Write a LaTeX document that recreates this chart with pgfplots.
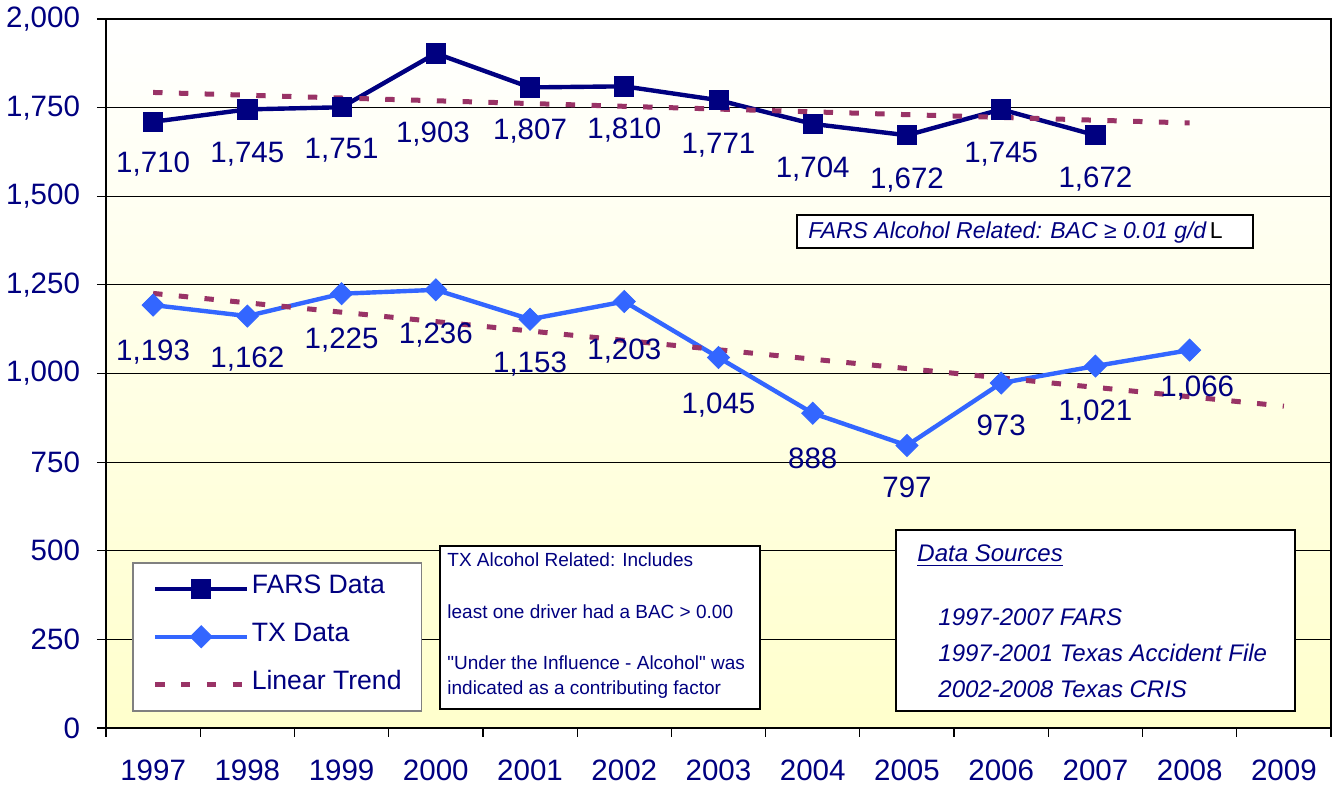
\documentclass[border=0pt]{standalone}
\usepackage{fontspec}
\setmainfont{Liberation Sans}
\newfontfamily\plainfont{Liberation Sans}
\usepackage{pgfplots}
\pgfplotsset{compat=1.18}
\definecolor{navy}{RGB}{0,0,128}
\definecolor{txblue}{RGB}{51,102,255}
\definecolor{trendc}{RGB}{153,51,102}
\definecolor{bgyellow}{RGB}{255,255,204}
\definecolor{legendgray}{RGB}{128,128,128}

\pgfplotstableread{
x y
0 1710
1 1745
2 1751
3 1903
4 1807
5 1810
6 1771
7 1704
8 1672
9 1745
10 1672
}\farsdata

\pgfplotstableread{
x y
0 1193
1 1162
2 1225
3 1236
4 1153
5 1203
6 1045
7 888
8 797
9 973
10 1021
11 1066
}\txdata

\pgfplotstableread{
x y
0 1792.8
11 1706.7
}\farstrend

\pgfplotstableread{
x y
0 1225.9
12 907.9
}\txtrend

\pgfplotstableread{
x y lab
0 1565.6 1,710
1 1593.8 1,745
2 1605.1 1,751
2.97 1653.0 1,903
4 1658.7 1,807
5 1661.5 1,810
6 1619.2 1,771
7 1551.5 1,704
8 1520.5 1,672
9 1593.8 1,745
10 1523.3 1,672
}\farslabels

\pgfplotstableread{
x y lab
0 1035.3 1,193
1 1015.5 1,162
2 1069.1 1,225
3 1083.2 1,236
4 1001.4 1,153
5 1038.1 1,203
6 885.8 1,045
7 730.6 888
8 648.8 797
9 823.7 973
10 866.0 1,021
11.08 933.7 1,066
}\txlabels

\begin{document}
\begin{tikzpicture}
\useasboundingbox (-53pt,-29pt) rectangle (614pt,364pt);
\begin{axis}[
  scale only axis, width=612.5pt, height=354.5pt,
  xmin=-0.5, xmax=12.5, ymin=0, ymax=2000,
  xtick={0,1,2,3,4,5,6,7,8,9,10,11,12},
  xticklabels={1997,1998,1999,2000,2001,2002,2003,2004,2005,2006,2007,2008,2009},
  minor xtick={-0.5,0.5,1.5,2.5,3.5,4.5,5.5,6.5,7.5,8.5,9.5,10.5,11.5,12.5},
  major x tick style={draw=none},
  ytick={0,250,500,750,1000,1250,1500,1750,2000},
  scaled y ticks=false,
  tick align=outside, xtick pos=bottom, ytick pos=left,
  major tick length=4.5pt, minor tick length=4.5pt,
  ymajorgrids, grid style={black, line width=0.5pt},
  axis line style={black, line width=0.6pt},
  tick style={black, line width=0.6pt},
  ticklabel style={font=\fontsize{14.75}{16}\selectfont, text=navy},
  xticklabel style={yshift=-8pt},
  yticklabel style={xshift=-5pt},
  /pgf/number format/1000 sep={,},
  /pgf/number format/assume math mode=true,
  axis background/.style={top color=white, bottom color=bgyellow},
  legend cell align=left,
  legend style={at={(axis description cs:0.0212,0.2341)}, anchor=north west,
    draw=legendgray, line width=0.8pt, fill=white,
    font=\fontsize{13.3}{15}\selectfont, text=navy,
    inner xsep=10pt, inner ysep=6pt, row sep=10pt,
    nodes={inner sep=0pt, text height=9.5pt, text depth=4.5pt},
    /tikz/every odd column/.append style={column sep=1pt}},
  legend image code/.code={\draw[mark repeat=2, mark phase=2, #1] plot coordinates {(0pt,0pt) (23pt,0pt) (46pt,0pt)};},
]
\addplot[navy, line width=2.2pt, mark=square*, mark size=4.8pt,
  mark options={line width=0.4pt, fill=navy, solid}] table[x=x,y=y] {\farsdata};
\addlegendentry{FARS Data}
\addplot[txblue, line width=2.2pt, mark=square*, mark size=3.9pt,
  mark options={line width=0.4pt, fill=txblue, solid, rotate=45}] table[x=x,y=y] {\txdata};
\addlegendentry{TX Data}
\addplot[trendc, line width=2.5pt, dash pattern=on 4.7pt off 8.2pt] table[x=x,y=y] {\farstrend};
\addlegendentry{Linear Trend}
\addplot[trendc, line width=2.5pt, dash pattern=on 4.7pt off 8.2pt, forget plot] table[x=x,y=y] {\txtrend};

\addplot[draw=none, mark=none, forget plot, point meta=explicit symbolic,
  nodes near coords,
  every node near coord/.append style={anchor=base, inner sep=0pt, font=\fontsize{14.75}{16}\selectfont, text=navy}]
  table[x=x,y=y,meta=lab] {\farslabels};
\addplot[draw=none, mark=none, forget plot, point meta=explicit symbolic,
  nodes near coords,
  every node near coord/.append style={anchor=base, inner sep=0pt, font=\fontsize{14.75}{16}\selectfont, text=navy}]
  table[x=x,y=y,meta=lab] {\txlabels};

% FARS definition box
\draw[black, line width=1pt, fill=white] (axis cs:6.833,1447.1) rectangle (axis cs:11.672,1354.0);
\node[anchor=base west, inner sep=0pt, font=\fontsize{11.5}{13}\selectfont, text=navy] at (axis cs:6.95,1382.2)
  {\textit{FARS Alcohol Related: BAC ≥ 0.01 g/d}\hspace{1.5pt}\textcolor{black}{L}};

% TX definition box
\draw[black, line width=1pt, fill=white] (axis cs:3.044,513.4) rectangle (axis cs:6.44,53.6);
\begin{scope}[every node/.style={anchor=base west, inner sep=0pt, font=\fontsize{9.5}{11}\selectfont\plainfont, text=navy}]
\node at (axis cs:3.119,454.2) {TX Alcohol Related: Includes};
\node at (axis cs:3.119,307.5) {least one driver had a BAC > 0.00};
\node at (axis cs:3.119,163.6) {"Under the Influence - Alcohol" was};
\node at (axis cs:3.119,93.1) {indicated as a contributing factor};
\end{scope}

% Data sources box
\draw[black, line width=1.2pt, fill=white] (axis cs:7.884,558.5) rectangle (axis cs:12.118,48.0);
\begin{scope}[every node/.style={anchor=base west, inner sep=0pt, font=\fontsize{12}{14}\selectfont\itshape, text=navy}]
\node at (axis cs:8.107,468.3) {\underline{Data Sources}};
\node at (axis cs:8.33,290.5) {1997-2007 FARS};
\node at (axis cs:8.33,186.2) {1997-2001 Texas Accident File};
\node at (axis cs:8.33,87.4) {2002-2008 Texas CRIS};
\end{scope}
\end{axis}
\end{tikzpicture}
\end{document}
